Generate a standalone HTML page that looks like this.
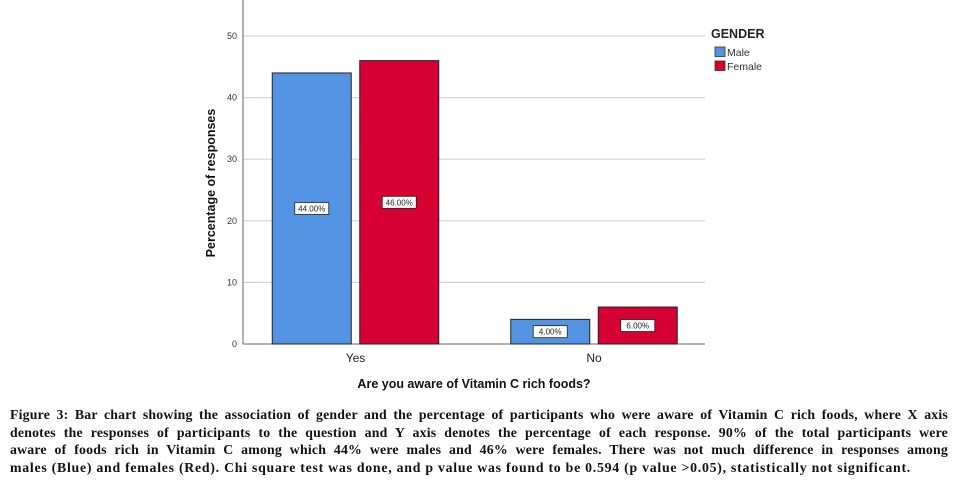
<!DOCTYPE html>
<html><head><meta charset="utf-8"><style>
body{margin:0;background:#fff;width:979px;height:492px;overflow:hidden;position:relative;font-family:"Liberation Sans",sans-serif}
#cap{position:absolute;left:10px;top:406px;width:938px;font:bold 13.8px/17.6px "Liberation Serif",serif;color:#111;letter-spacing:0.75px}
#cap span{display:block;text-align:justify;text-align-last:justify;white-space:nowrap;letter-spacing:0.2px}
#cap span.last{text-align-last:left;letter-spacing:0.75px}
</style></head><body>
<svg id="chart" width="979" height="400" style="position:absolute;left:0;top:0" font-family="Liberation Sans, sans-serif"></svg>
<div id="cap"><span>Figure 3: Bar chart showing the association of gender and the percentage of participants who were aware of Vitamin C rich foods, where X axis</span><span>denotes the responses of participants to the question and Y axis denotes the percentage of each response. 90% of the total participants were</span><span>aware of foods rich in Vitamin C among which 44% were males and 46% were females. There was not much difference in responses among</span><span class="last">males (Blue) and females (Red). Chi square test was done, and p value was found to be 0.594 (p value &gt;0.05), statistically not significant.</span></div>
<script>
const categories=["Yes","No"];
const maleValues=[44,4];
const femaleValues=[46,6];
const yTicks=[0,10,20,30,40,50];
const seriesNames=["Male","Female"];
const NS="http://www.w3.org/2000/svg";
const svg=document.getElementById('chart');
function mk(t,a,txt){const e=document.createElementNS(NS,t);for(const k in a)e.setAttribute(k,a[k]);if(txt!=null)e.textContent=txt;svg.appendChild(e);return e;}
const x0=243,x1=705,yZero=344,yTop=36;
const y=v=>yZero-(v/50)*(yZero-yTop);
const groupCenters=[355.5,594];
const xC=i=>groupCenters[0]+i*(groupCenters[1]-groupCenters[0]);
yTicks.forEach(t=>{
 if(t>0){const g=mk('line',{x1:x0,x2:x1,y1:y(t),y2:y(t),stroke:'#d4d4d4','stroke-width':1.2});
 
 }
 const l=mk('text',{x:237,y:y(t)+3,'text-anchor':'end','font-size':9,fill:'#333'},t);
 
 
});
const ax=mk('line',{x1:x0,x2:x0,y1:0,y2:yZero,stroke:'#666','stroke-width':1});


const axx=mk('line',{x1:x0,x2:x1,y1:yZero,y2:yZero,stroke:'#666','stroke-width':1});


const colors=["#5294e2","#d60032"];
const bw=79,gap=8.5;
categories.forEach((c,i)=>{
 [maleValues[i],femaleValues[i]].forEach((v,s)=>{
  const bx=s==0?xC(i)-gap/2-bw:xC(i)+gap/2;
  const r=mk('rect',{x:bx,y:y(v),width:bw,height:yZero-y(v),fill:colors[s],stroke:'#222','stroke-width':1});
  
  
  const cy=y(v/2);
  const lb=mk('rect',{x:bx+bw/2-17,y:cy-6,width:34,height:12,fill:'#fff',stroke:'#222','stroke-width':0.8});
  
  
  const lt=mk('text',{x:bx+bw/2,y:cy+3,'text-anchor':'middle','font-size':8,fill:'#222'},v.toFixed(2)+'%');
  
  
 });
 const t=mk('text',{x:xC(i),y:362,'text-anchor':'middle','font-size':12,fill:'#222'},c);
 
 
});
const xt=mk('text',{x:474,y:388,'text-anchor':'middle','font-size':12.5,'font-weight':'bold',fill:'#111'},'Are you aware of Vitamin C rich foods?');


const yt=mk('text',{x:0,y:0,'text-anchor':'middle','font-size':12.5,'font-weight':'bold',fill:'#111',transform:'translate(215,183) rotate(-90)'},'Percentage of responses');


const lg=mk('text',{x:711,y:38,'font-size':12.5,'font-weight':'bold',fill:'#222'},'GENDER');


seriesNames.forEach((n,s)=>{
 const sw=mk('rect',{x:715,y:47+s*14,width:10,height:9.5,fill:colors[s],stroke:'#333','stroke-width':0.8});
 
 
 const tx=mk('text',{x:727,y:56+s*14,'font-size':10.5,fill:'#333'},n);
 
 
});
</script>
</body></html>
